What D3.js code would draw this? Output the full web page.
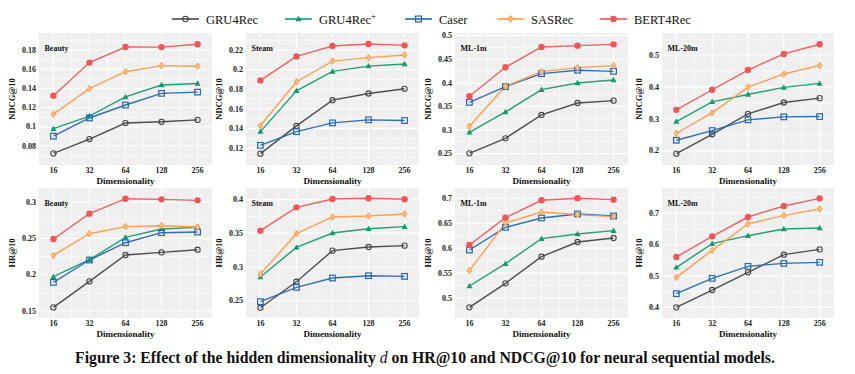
<!DOCTYPE html>
<html><head><meta charset="utf-8">
<script src="https://cdn.jsdelivr.net/npm/d3@7"></script>
<style>body{margin:0;background:#fff} svg{display:block}</style>
</head><body>
<svg id="c" width="855" height="374"></svg>
<script>
const dims = [16, 32, 64, 128, 256];
const models = ["GRU4Rec", "GRU4Rec+", "Caser", "SASRec", "BERT4Rec"];
const datasets = ["Beauty", "Steam", "ML-1m", "ML-20m"];
const metrics = ["NDCG@10", "HR@10"];

// rows: GRU4Rec, GRU4Rec+, Caser, SASRec, BERT4Rec
const ndcgBeauty = [
  [0.072, 0.087, 0.1037, 0.105, 0.107],
  [0.0978, 0.111, 0.131, 0.1434, 0.145],
  [0.090, 0.109, 0.1225, 0.1347, 0.136],
  [0.113, 0.1396, 0.1573, 0.1636, 0.163],
  [0.1323, 0.1668, 0.1831, 0.183, 0.186]];
const ndcgSteam = [
  [0.1142, 0.1425, 0.1688, 0.1756, 0.1804],
  [0.1367, 0.1784, 0.1982, 0.2036, 0.2057],
  [0.1227, 0.1367, 0.1456, 0.1487, 0.148],
  [0.1429, 0.1876, 0.2087, 0.2122, 0.2149],
  [0.189, 0.2135, 0.2241, 0.2261, 0.2248]];
const ndcgMl1m = [
  [0.2507, 0.2825, 0.332, 0.3573, 0.3623],
  [0.2952, 0.3383, 0.3856, 0.3997, 0.406],
  [0.3588, 0.392, 0.4195, 0.4266, 0.4244],
  [0.3079, 0.393, 0.4237, 0.4322, 0.4364],
  [0.3715, 0.4329, 0.476, 0.4788, 0.4816]];
const ndcgMl20m = [
  [0.1906, 0.2514, 0.3154, 0.3511, 0.3647],
  [0.2913, 0.3532, 0.3763, 0.3983, 0.4109],
  [0.2325, 0.263, 0.2965, 0.306, 0.307],
  [0.2546, 0.3186, 0.3994, 0.4403, 0.4676],
  [0.328, 0.391, 0.4529, 0.5033, 0.5337]];
const hrBeauty = [
  [0.155, 0.1908, 0.2271, 0.2307, 0.2344],
  [0.1972, 0.2206, 0.2514, 0.2628, 0.2651],
  [0.1894, 0.2202, 0.244, 0.2578, 0.2587],
  [0.2266, 0.2564, 0.2661, 0.2674, 0.2656],
  [0.2491, 0.284, 0.3046, 0.3037, 0.3023]];
const hrSteam = [
  [0.2396, 0.2782, 0.3243, 0.3297, 0.3317],
  [0.2851, 0.3292, 0.3505, 0.3569, 0.3599],
  [0.2485, 0.2698, 0.2837, 0.2871, 0.2861],
  [0.2896, 0.3495, 0.3743, 0.3757, 0.3787],
  [0.354, 0.3886, 0.401, 0.402, 0.4005]];
const hrMl1m = [
  [0.4813, 0.5294, 0.5829, 0.6124, 0.6204],
  [0.5241, 0.5689, 0.6191, 0.6284, 0.6351],
  [0.5963, 0.6418, 0.6605, 0.6686, 0.6645],
  [0.5548, 0.6505, 0.6726, 0.6672, 0.6632],
  [0.6064, 0.6612, 0.696, 0.700, 0.6973]];
const hrMl20m = [
  [0.400, 0.4553, 0.5117, 0.5681, 0.5851],
  [0.5277, 0.6032, 0.6287, 0.650, 0.6532],
  [0.4436, 0.4926, 0.5309, 0.5404, 0.5436],
  [0.4957, 0.5819, 0.666, 0.6936, 0.7138],
  [0.5606, 0.6266, 0.6883, 0.7234, 0.7479]];

const ticksNdcgBeauty = [0.08, 0.1, 0.12, 0.14, 0.16, 0.18];
const ticksNdcgSteam = [0.12, 0.14, 0.16, 0.18, 0.2, 0.22];
const ticksNdcgMl1m = [0.25, 0.3, 0.35, 0.4, 0.45, 0.5];
const ticksNdcgMl20m = [0.2, 0.3, 0.4, 0.5];
const ticksHrBeauty = [0.15, 0.2, 0.25, 0.3];
const ticksHrSteam = [0.25, 0.3, 0.35, 0.4];
const ticksHrMl1m = [0.5, 0.55, 0.6, 0.65, 0.7];
const ticksHrMl20m = [0.4, 0.5, 0.6, 0.7];

const caption = "Figure 3: Effect of the hidden dimensionality ";
const captionRest = " on HR@10 and NDCG@10 for neural sequential models.";

// ---- layout ----
const colX = [[39, 212], [246, 419], [455, 628], [662, 834]];
const rowY = [[33, 165], [188, 318]];
const panels = [
  {r:0,c:0,data:ndcgBeauty,ticks:ticksNdcgBeauty,dom:[0.0599,0.1977]},
  {r:0,c:1,data:ndcgSteam,ticks:ticksNdcgSteam,dom:[0.1026,0.2374]},
  {r:0,c:2,data:ndcgMl1m,ticks:ticksNdcgMl1m,dom:[0.226,0.5056]},
  {r:0,c:3,data:ndcgMl20m,ticks:ticksNdcgMl20m,dom:[0.155,0.569]},
  {r:1,c:0,data:hrBeauty,ticks:ticksHrBeauty,dom:[0.1404,0.3193]},
  {r:1,c:1,data:hrSteam,ticks:ticksHrSteam,dom:[0.2243,0.4173]},
  {r:1,c:2,data:hrMl1m,ticks:ticksHrMl1m,dom:[0.4599,0.7207]},
  {r:1,c:3,data:hrMl20m,ticks:ticksHrMl20m,dom:[0.366,0.7809]},
];
const colors = ["#454545", "#17996f", "#2767ad", "#ff9a48", "#ec5858"];
const serif = "'Liberation Serif', 'DejaVu Serif', serif";

const svg = d3.select("#c");

function marker(g, i, x, y, s) {
  const col = colors[i];
  if (i === 0) {
    g.append("circle").attr("cx", x).attr("cy", y).attr("r", 2.6*s)
      .attr("fill", "none").attr("stroke", col).attr("stroke-width", 1.1);
  } else if (i === 1) {
    const h = 3.2*s;
    g.append("path").attr("d", `M${x},${y-h}L${x+h*0.95},${y+h*0.7}L${x-h*0.95},${y+h*0.7}Z`)
      .attr("fill", col);
  } else if (i === 2) {
    const h = 2.8*s;
    g.append("rect").attr("x", x-h).attr("y", y-h).attr("width", 2*h).attr("height", 2*h)
      .attr("fill", "none").attr("stroke", col).attr("stroke-width", 1.2);
  } else if (i === 3) {
    const h = 3.3*s, w = 2.3*s;
    g.append("path").attr("d", `M${x},${y-h}L${x+w},${y}L${x},${y+h}L${x-w},${y}Z`)
      .attr("fill", "#ffbf85").attr("stroke", col).attr("stroke-width", 1);
  } else {
    g.append("circle").attr("cx", x).attr("cy", y).attr("r", 3.2*s).attr("fill", col);
  }
}

const fmt = v => String(+v.toFixed(3));

panels.forEach((p, pi) => {
  const [l, r] = colX[p.c];
  const [t, b] = rowY[p.r];
  const x = d3.scalePoint().domain(dims).range([l, r]).padding(0.4);
  const y = d3.scaleLinear().domain(p.dom).range([b, t]);
  const g = svg.append("g");
  g.append("rect").attr("x", l).attr("y", t).attr("width", r-l).attr("height", b-t).attr("fill", "#efefef");
  // minor grid
  const step = p.ticks[1] - p.ticks[0];
  const minors = [];
  for (let k = -1; k < p.ticks.length; k++) {
    const v = p.ticks[0] + (k + 0.5) * step;
    if (v > p.dom[0] && v < p.dom[1]) minors.push(v);
  }
  g.selectAll(".mny").data(minors).join("line")
    .attr("x1", l).attr("x2", r).attr("y1", d => y(d)).attr("y2", d => y(d))
    .attr("stroke", "#fff").attr("stroke-width", 0.6);
  const xs = dims.map(d => x(d));
  const mx = [];
  for (let k = 0; k < xs.length - 1; k++) mx.push((xs[k] + xs[k+1]) / 2);
  g.selectAll(".mnx").data(mx).join("line")
    .attr("x1", d => d).attr("x2", d => d).attr("y1", t).attr("y2", b)
    .attr("stroke", "#fff").attr("stroke-width", 0.6);
  // major grid
  g.selectAll(".mjy").data(p.ticks).join("line")
    .attr("x1", l).attr("x2", r).attr("y1", d => y(d)).attr("y2", d => y(d))
    .attr("stroke", "#fff").attr("stroke-width", 1.1);
  g.selectAll(".mjx").data(dims).join("line")
    .attr("x1", d => x(d)).attr("x2", d => x(d)).attr("y1", t).attr("y2", b)
    .attr("stroke", "#fff").attr("stroke-width", 1.1);

  // y tick labels
  const yl = g.selectAll(".yl").data(p.ticks).join("text")
    .attr("x", l - 3).attr("y", d => y(d) + 2.8).attr("text-anchor", "end")
    .attr("font-family", serif).attr("font-weight", "bold").attr("font-size", 8)
    .attr("fill", "#222").text(fmt);
  let maxw = 0;
  yl.each(function(){ maxw = Math.max(maxw, this.getComputedTextLength()); });
  // x tick labels
  g.selectAll(".xl").data(dims).join("text")
    .attr("x", d => x(d)).attr("y", b + 7.5).attr("text-anchor", "middle")
    .attr("font-family", serif).attr("font-weight", "bold").attr("font-size", 8)
    .attr("fill", "#222").text(d => d);
  // axis titles
  const tx = g.append("text")
    .attr("x", (l + r) / 2).attr("y", b + 19).attr("text-anchor", "middle")
    .attr("font-family", serif).attr("font-weight", "bold").attr("font-size", 9)
    .attr("fill", "#111").text("Dimensionality");
  const yc = (t + b) / 2, xc = l - 3 - maxw - 7;
  g.append("text").attr("transform", `translate(${xc},${yc}) rotate(-90)`)
    .attr("text-anchor", "middle").attr("font-family", serif).attr("font-weight", "bold")
    .attr("font-size", 8.5).attr("fill", "#111").text(metrics[p.r]);
  // dataset label
  g.append("text").attr("x", l + 5.5).attr("y", t + 17.5)
    .attr("font-family", serif).attr("font-weight", "bold").attr("font-size", 8)
    .attr("fill", "#111").text(datasets[p.c]);

  // lines
  const line = d3.line().x((d, k) => x(dims[k])).y(d => y(d));
  p.data.forEach((vals, i) => {
    g.append("path").attr("d", line(vals)).attr("fill", "none")
      .attr("stroke", colors[i]).attr("stroke-width", 1.4).attr("stroke-opacity", 0.95);
  });
  p.data.forEach((vals, i) => {
    vals.forEach((v, k) => marker(g, i, x(dims[k]), y(v), 1));
  });
});

// legend
const legX = [172, 285, 405, 497, 600];
const lg = svg.append("g");
models.forEach((m, i) => {
  const x0 = legX[i], yy = 19;
  lg.append("line").attr("x1", x0).attr("x2", x0 + 27).attr("y1", yy).attr("y2", yy)
    .attr("stroke", colors[i]).attr("stroke-width", 1.6);
  marker(lg, i, x0 + 13.5, yy, 1.05);
  const tEl = lg.append("text").attr("x", x0 + 34).attr("y", yy + 4.5)
    .attr("font-family", serif).attr("font-size", 12.5).attr("fill", "#111");
  if (m.endsWith("+")) {
    tEl.append("tspan").text(m.slice(0, -1));
    tEl.append("tspan").attr("dy", -5).attr("font-size", 9).text("+");
  } else tEl.text(m);
});

// caption
const cap = svg.append("text").attr("x", 425).attr("y", 363).attr("text-anchor", "middle")
  .attr("font-family", serif).attr("font-weight", "bold").attr("font-size", 14).attr("fill", "#111");
cap.append("tspan").text(caption);
cap.append("tspan").attr("font-style", "italic").attr("font-weight", "normal").text("d");
cap.append("tspan").text(captionRest);
const cw = cap.node().getComputedTextLength();
cap.attr("font-size", 14 * 700 / cw);
</script>
</body></html>
